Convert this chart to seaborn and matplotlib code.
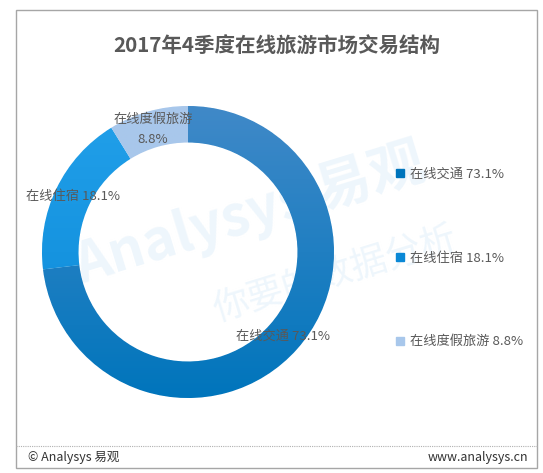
import numpy as np
import matplotlib
matplotlib.use("Agg")
import matplotlib.pyplot as plt
import seaborn as sns
from matplotlib.lines import Line2D
from matplotlib.patches import Rectangle
from matplotlib.colors import LinearSegmentedColormap

sns.set_theme(style="white")
plt.rcParams['font.family'] = ['Noto Sans CJK SC', 'DejaVu Sans']

title = "2017年4季度在线旅游市场交易结构"
categories = ["在线交通", "在线住宿", "在线度假旅游"]
values = [73.1, 18.1, 8.8]
colors = ["#1a7fc4", "#1496e0", "#a8c7eb"]
grad_top = ["#4089c8", "#22a0ea", "#a8c7eb"]
grad_bottom = ["#0075bc", "#0a88d6", "#a8c7eb"]
labels_on_ring = ["在线交通 73.1%", "在线住宿 18.1%", "在线度假旅游\n8.8%"]
legend_labels = ["在线交通 73.1%", "在线住宿 18.1%", "在线度假旅游 8.8%"]

W, H = 543, 473
fig = plt.figure(figsize=(W / 100, H / 100), dpi=100)
fig.patch.set_facecolor("white")

def px(x, y):
    return x / W, 1 - y / H

# frame
fig.patches.append(Rectangle(px(16, 468), (537 - 16) / W, (468 - 10) / H,
                             transform=fig.transFigure, fill=False,
                             edgecolor="#a6a6a6", linewidth=1.0, zorder=-5))
fig.add_artist(Line2D([16 / W, 537 / W], [1 - 446 / H, 1 - 446 / H],
                      transform=fig.transFigure, color="#b0b0b0",
                      linewidth=0.8, linestyle=(0, (1, 1))))

# watermark
fig.text(*px(250, 215), "Analysys 易观", fontsize=40, fontweight="bold",
         fontstyle="italic", color="#eef6fc", rotation=17, ha="center",
         va="center", zorder=-3)
fig.text(*px(335, 275), "你要的数据分析", fontsize=26, color="#eef6fc",
         rotation=17, ha="center", va="center", zorder=-3)

# title
fig.text(*px(277, 46), title, fontsize=14.8, fontweight="bold",
         color="#595959", ha="center", va="center")

# donut
cx, cy, R = 188, 252, 146
ax = fig.add_axes([(cx - R) / W, (H - cy - R) / H, 2 * R / W, 2 * R / H])
ax.set_facecolor("none")
wedges, _ = ax.pie(values, colors=colors, startangle=90, counterclock=False,
                   radius=1.0,
                   wedgeprops=dict(width=0.25, edgecolor="white", linewidth=0.6))
grad = np.linspace(0, 1, 256).reshape(-1, 1)
for w, ct, cb in zip(wedges, grad_top, grad_bottom):
    cmap = LinearSegmentedColormap.from_list("g", [ct, cb])
    im = ax.imshow(grad, cmap=cmap, extent=[-1, 1, -1, 1], origin="upper",
                   aspect="auto", zorder=w.get_zorder() + 0.1)
    im.set_clip_path(w)
ax.set_xlim(-1, 1)
ax.set_ylim(-1, 1)
ax.set_aspect("equal")
ax.axis("off")

label_pos = [(0.65, -0.575), (-0.79, 0.377), (-0.24, 0.84)]
for (x, y), t in zip(label_pos, labels_on_ring):
    ax.text(x, y, t, fontsize=9.5, color="#595959", ha="center", va="center",
            linespacing=1.75, zorder=5)

# legend
handles = [Line2D([0], [0], marker="s", linestyle="none", markersize=5.2,
                  markerfacecolor=c, markeredgecolor=c) for c in grad_bottom[:2] + [colors[2]]]
fig.legend(handles, legend_labels, loc="upper left",
           bbox_to_anchor=(395 / W, 1 - 168 / H), frameon=False,
           fontsize=9.5, labelcolor="#595959", borderpad=0, handlelength=0.8,
           handletextpad=0.35, labelspacing=5.35, borderaxespad=0)

# footer
fig.text(*px(28, 457), "© Analysys 易观", fontsize=9, color="#333333",
         ha="left", va="center")
fig.text(*px(528, 457), "www.analysys.cn", fontsize=9, color="#333333",
         ha="right", va="center")

fig.savefig("out.png", dpi=100, facecolor="white")
